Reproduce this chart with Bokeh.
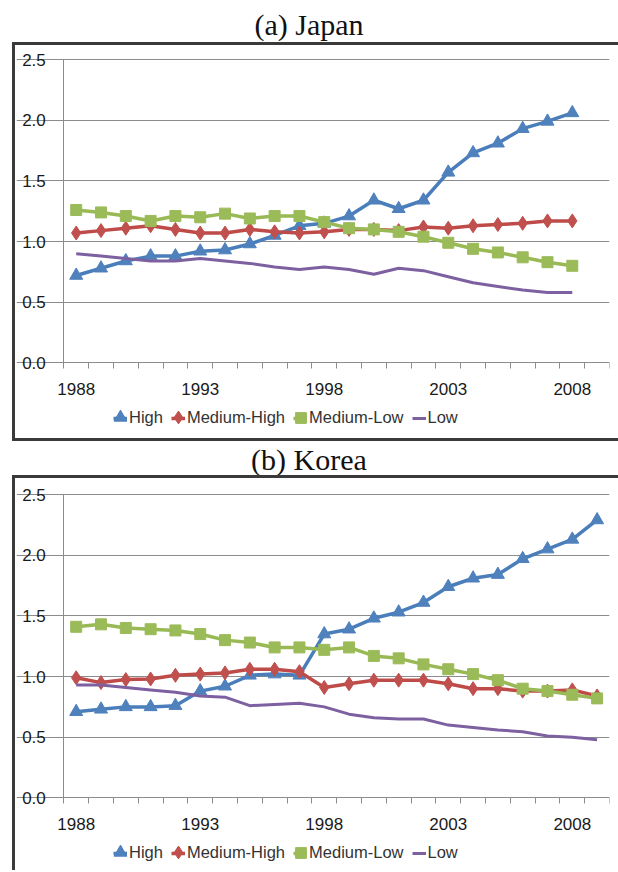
from bokeh.plotting import figure
from bokeh.models import Range1d, FixedTicker, Legend, LegendItem, Div
from bokeh.layouts import column
from bokeh.embed import file_html
from bokeh.resources import INLINE

# ---------------- data ----------------
years_jp = list(range(1988, 2009))
years_kr = list(range(1988, 2010))

jp_high = [0.72, 0.78, 0.84, 0.88, 0.88, 0.92, 0.93, 0.98, 1.05, 1.13, 1.15,
           1.21, 1.34, 1.27, 1.34, 1.57, 1.73, 1.81, 1.93, 1.99, 2.06]
jp_medhigh = [1.07, 1.09, 1.11, 1.13, 1.10, 1.07, 1.07, 1.10, 1.08, 1.07, 1.08,
              1.10, 1.10, 1.09, 1.12, 1.11, 1.13, 1.14, 1.15, 1.17, 1.17]
jp_medlow = [1.26, 1.24, 1.21, 1.17, 1.21, 1.20, 1.23, 1.19, 1.21, 1.21, 1.16,
             1.11, 1.10, 1.08, 1.04, 0.99, 0.94, 0.91, 0.87, 0.83, 0.80]
jp_low = [0.90, 0.88, 0.86, 0.84, 0.84, 0.86, 0.84, 0.82, 0.79, 0.77, 0.79,
          0.77, 0.73, 0.78, 0.76, 0.71, 0.66, 0.63, 0.60, 0.58, 0.58]

kr_high = [0.71, 0.73, 0.75, 0.75, 0.76, 0.88, 0.92, 1.01, 1.02, 1.01, 1.35,
           1.39, 1.48, 1.53, 1.61, 1.74, 1.81, 1.84, 1.97, 2.05, 2.13, 2.29]
kr_medhigh = [0.99, 0.95, 0.975, 0.98, 1.01, 1.02, 1.03, 1.06, 1.06, 1.04, 0.91,
              0.94, 0.97, 0.97, 0.97, 0.94, 0.90, 0.90, 0.88, 0.88, 0.89, 0.84]
kr_medlow = [1.41, 1.43, 1.40, 1.39, 1.38, 1.35, 1.30, 1.28, 1.24, 1.24, 1.22,
             1.24, 1.17, 1.15, 1.10, 1.06, 1.02, 0.97, 0.90, 0.88, 0.85, 0.82]
kr_low = [0.93, 0.93, 0.91, 0.89, 0.87, 0.84, 0.83, 0.76, 0.77, 0.78, 0.75,
          0.69, 0.66, 0.65, 0.65, 0.60, 0.58, 0.56, 0.545, 0.51, 0.50, 0.48]

series_names = ["High", "Medium-High", "Medium-Low", "Low"]
x_tick_values = [1988, 1993, 1998, 2003, 2008]
x_tick_labels = ["1988", "1993", "1998", "2003", "2008"]
y_tick_values = [0.0, 0.5, 1.0, 1.5, 2.0, 2.5]
y_tick_labels = ["0.0", "0.5", "1.0", "1.5", "2.0", "2.5"]
panel_titles = ["(a) Japan", "(b) Korea"]

# ---------------- style ----------------
LINE_COLORS = ["#4A7EBB", "#BE4B48", "#98B954", "#7D60A0"]
MARK_COLORS = ["#4F81BD", "#C0504D", "#9BBB59", "#8064A2"]
MARKERS = ["triangle", "diamond", "square", None]
MSIZES = [13, 14, 11, 0]
LEG_MARK_BOX = [32, 32, 27, 0]     # legend glyph box -> marker is 0.4 of it
GRID = "#8c8c8c"
TXT = "#1a1a1a"
SANS = "Liberation Sans"
BOX = "#3a3a3a"

FIG_W = 618
X_START_CAT, X_END_CAT = 1987.5, 2009.5
PX_PER_UNIT = 303.4 / 2.5          # vertical pixels per value unit
PX_PER_YEAR = 545.7 / 22           # horizontal pixels per category
Y_TOP = 2.5
LEFT, RIGHT, FRAME_TOP = 16, 9, 4

LEG_FONT = 16.5
GLYPH_W, STANDOFF, SPACING = 14, 2, 8
ADV = {"H": 722, "i": 222, "g": 556, "h": 556, "M": 833, "e": 556, "d": 556,
       "u": 556, "m": 833, "-": 333, "L": 556, "o": 556, "w": 722}


def text_w(s):
    return sum(ADV[c] for c in s) * LEG_FONT / 1000


def box_styles(bottom):
    g = f"linear-gradient({BOX},{BOX})"
    imgs = [g, g]
    pos = ["12px 0px", "12px 0px"]
    size = ["3px 100%", "100% 3px"]
    if bottom:
        imgs.append(g)
        pos.append("12px 100%")
        size.append("100% 3px")
    return {"background-image": ", ".join(imgs),
            "background-position": ", ".join(pos),
            "background-size": ", ".join(size),
            "background-repeat": "no-repeat"}


def make_panel(years, data, height, top, bottom, bottom_border, legend_y):
    frame_h = height - FRAME_TOP - bottom
    frame_w = FIG_W - LEFT - RIGHT
    y_end = Y_TOP + (top - FRAME_TOP) / PX_PER_UNIT
    y_start = y_end - frame_h / PX_PER_UNIT
    x_start = X_END_CAT - frame_w / PX_PER_YEAR
    p = figure(width=FIG_W, height=height,
               x_range=Range1d(x_start, X_END_CAT), y_range=Range1d(y_start, y_end),
               output_backend="svg", toolbar_location=None,
               min_border_left=LEFT, min_border_right=RIGHT,
               min_border_top=FRAME_TOP, min_border_bottom=bottom,
               margin=0,
               background_fill_alpha=0, border_fill_alpha=0,
               outline_line_color=None,
               styles=box_styles(bottom_border))

    xa = p.xaxis[0]
    xa.fixed_location = 0
    xa.bounds = (X_START_CAT, X_END_CAT)
    xa.ticker = FixedTicker(ticks=x_tick_values,
                            minor_ticks=[X_START_CAT + i for i in range(23)])
    xa.major_label_overrides = {v: s for v, s in zip(x_tick_values, x_tick_labels)}
    xa.major_tick_line_color = None
    xa.major_tick_out = 0
    xa.major_tick_in = 0
    xa.minor_tick_out = 6
    xa.minor_tick_in = 0
    xa.minor_tick_line_color = GRID
    xa.axis_line_color = GRID
    xa.major_label_standoff = 14
    xa.major_label_text_font = SANS
    xa.major_label_text_font_size = "17px"
    xa.major_label_text_color = TXT

    ya = p.yaxis[0]
    ya.fixed_location = X_START_CAT
    ya.ticker = FixedTicker(ticks=y_tick_values)
    ya.bounds = (0, Y_TOP)
    ya.major_label_overrides = {v: s for v, s in zip(y_tick_values, y_tick_labels)}
    ya.major_tick_out = 5
    ya.major_tick_in = 0
    ya.major_tick_line_color = GRID
    ya.minor_tick_line_color = None
    ya.axis_line_color = GRID
    ya.major_label_standoff = 13
    ya.major_label_text_font = SANS
    ya.major_label_text_font_size = "17px"
    ya.major_label_text_color = TXT

    p.xgrid.visible = False
    p.ygrid.grid_line_color = GRID
    p.ygrid.grid_line_width = 1
    p.ygrid.bounds = (X_START_CAT, X_END_CAT)

    line_items = []
    marker_rs = []
    for i, vals in enumerate(data):
        lw = 3.5 if i < 3 else 3
        r = p.line(years, vals, line_color=LINE_COLORS[i], line_width=lw)
        line_items.append(LegendItem(label=series_names[i], renderers=[r]))
        if MARKERS[i]:
            s = p.scatter(years, vals, marker=MARKERS[i], size=MSIZES[i],
                          fill_color=MARK_COLORS[i], line_color=MARK_COLORS[i])
            marker_rs.append(s)
        else:
            marker_rs.append(None)

    leg_x = 113 - LEFT
    leg = Legend(items=line_items, orientation="horizontal", location=(leg_x, legend_y),
                 glyph_width=GLYPH_W, glyph_height=16, label_height=16,
                 label_standoff=STANDOFF, spacing=SPACING, padding=0, margin=0,
                 border_line_color=None, background_fill_alpha=0,
                 label_text_font=SANS, label_text_font_size=f"{LEG_FONT}px",
                 label_text_color="#333333")
    p.add_layout(leg)

    start = 0.0
    for i, name in enumerate(series_names):
        centre = start + GLYPH_W / 2
        start += GLYPH_W + STANDOFF + max(20, text_w(name)) + SPACING
        if marker_rs[i] is None:
            continue
        bsz = LEG_MARK_BOX[i]
        ov = Legend(items=[LegendItem(label=" ", renderers=[marker_rs[i]])],
                    location=(leg_x + centre - bsz / 2, legend_y + 10 - bsz / 2),
                    glyph_width=bsz, glyph_height=bsz, label_width=0, label_height=bsz,
                    label_standoff=0, padding=0, margin=0,
                    border_line_color=None, background_fill_alpha=0,
                    label_text_font_size="1px")
        p.add_layout(ov)
    return p


def make_title(text, height, line_h):
    return Div(text=text, width=FIG_W, height=height, margin=0,
               styles={"text-align": "center", "font-family": "Liberation Serif",
                       "font-size": "30px", "line-height": f"{line_h}px",
                       "color": "#111111", "overflow": "visible"})


p1 = make_panel(years_jp, [jp_high, jp_medhigh, jp_medlow, jp_low],
                399, 17, 3, True, 11)
p2 = make_panel(years_kr, [kr_high, kr_medhigh, kr_medlow, kr_low],
                395, 19, 0, False, 8)

layout = column(make_title(panel_titles[0], 42, 50), p1,
                make_title(panel_titles[1], 34, 38), p2, spacing=0)

open("out.html", "w").write(file_html(layout, INLINE))
